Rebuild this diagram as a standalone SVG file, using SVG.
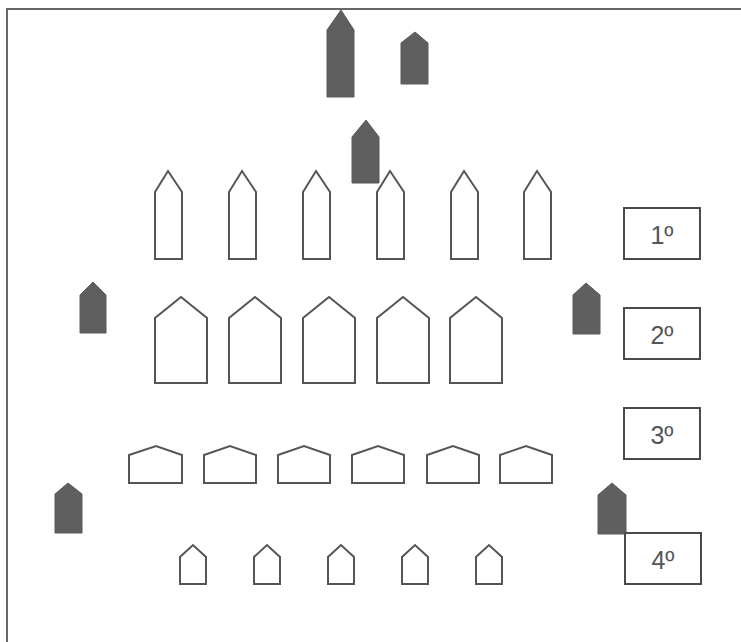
<svg xmlns="http://www.w3.org/2000/svg" width="741" height="642" viewBox="0 0 741 642">
<style>
.dark{fill:#5f5f5f;stroke:#5a5a5a;stroke-width:1}
.out{fill:#fff;stroke:#555;stroke-width:2;stroke-linejoin:miter}
.box{fill:#fff;stroke:#4a4a4a;stroke-width:2}
.lbl{font-family:"Liberation Sans",Arial,sans-serif;font-size:25px;fill:#555;text-anchor:middle}
.frame{fill:none;stroke:#666;stroke-width:2}
</style>
<rect width="741" height="642" fill="#fff"/>
<path class="frame" d="M7,642 V9 H741"/>
<g id="dark-boats">
<path class="dark" d="M327,97 V30 L341,10 L354,30 V97 Z"/>
<path class="dark" d="M401,84 V43 L415,32 L428,43 V84 Z"/>
<path class="dark" d="M352,183 V137 L366,120 L379,137 V183 Z"/>
<path class="dark" d="M80,333 V295 L93,282 L106,295 V333 Z"/>
<path class="dark" d="M573,334 V295 L586,283 L600,295 V334 Z"/>
<path class="dark" d="M55,533 V494 L68,483 L82,494 V533 Z"/>
<path class="dark" d="M598,534 V495 L612,483 L626,495 V534 Z"/>
</g>
<g id="row1">
<path class="out" d="M155,259 V192 L168,171 L182,192 V259 Z"/>
<path class="out" d="M229,259 V192 L242,171 L256,192 V259 Z"/>
<path class="out" d="M303,259 V192 L316,171 L330,192 V259 Z"/>
<path class="out" d="M377,259 V192 L390,171 L404,192 V259 Z"/>
<path class="out" d="M451,259 V192 L464,171 L478,192 V259 Z"/>
<path class="out" d="M524,259 V192 L537,171 L551,192 V259 Z"/>
</g>
<g id="row2">
<path class="out" d="M155,383 V318 L181,297 L207,318 V383 Z"/>
<path class="out" d="M229,383 V318 L255,297 L281,318 V383 Z"/>
<path class="out" d="M303,383 V318 L329,297 L355,318 V383 Z"/>
<path class="out" d="M377,383 V318 L403,297 L429,318 V383 Z"/>
<path class="out" d="M450,383 V318 L476,297 L502,318 V383 Z"/>
</g>
<g id="row3">
<path class="out" d="M129,483 V455 L156,446 L182,455 V483 Z"/>
<path class="out" d="M204,483 V455 L230,446 L256,455 V483 Z"/>
<path class="out" d="M278,483 V455 L304,446 L330,455 V483 Z"/>
<path class="out" d="M352,483 V455 L378,446 L404,455 V483 Z"/>
<path class="out" d="M427,483 V455 L453,446 L479,455 V483 Z"/>
<path class="out" d="M500,483 V455 L526,446 L552,455 V483 Z"/>
</g>
<g id="row4">
<path class="out" d="M180,584 V557 L193,545 L206,557 V584 Z"/>
<path class="out" d="M254,584 V557 L267,545 L280,557 V584 Z"/>
<path class="out" d="M328,584 V557 L341,545 L354,557 V584 Z"/>
<path class="out" d="M402,584 V557 L415,545 L428,557 V584 Z"/>
<path class="out" d="M476,584 V557 L489,545 L502,557 V584 Z"/>
</g>
<g id="label-1"><rect class="box" x="624" y="208" width="76" height="51"/><text class="lbl" x="662" y="244">1º</text></g>
<g id="label-2"><rect class="box" x="624" y="308" width="76" height="51"/><text class="lbl" x="662" y="344">2º</text></g>
<g id="label-3"><rect class="box" x="624" y="408" width="76" height="51"/><text class="lbl" x="662" y="444">3º</text></g>
<g id="label-4"><rect class="box" x="625" y="533" width="76" height="51"/><text class="lbl" x="663" y="569">4º</text></g>
<g id="connectors"></g>
</svg>
